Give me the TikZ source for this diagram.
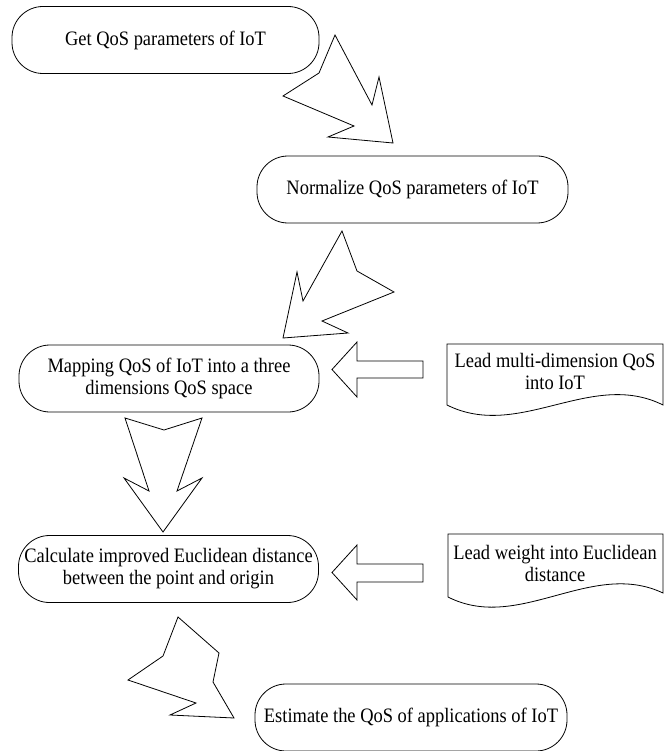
\documentclass[tikz,border=0pt]{standalone}
\usepackage{fontspec}
\setmainfont{Liberation Serif}[FakeStretch=0.9]
\begin{document}
\begin{tikzpicture}[x=1pt,y=-1pt,
  term/.style={draw, line width=0.8pt, rounded corners=31pt, minimum height=67pt,
    align=center, inner sep=0pt, font=\fontsize{20.5}{22}\selectfont},
  txt/.style={align=center, inner sep=0pt, font=\fontsize{20.5}{22}\selectfont},
  blk/.style={draw, line width=0.8pt, line join=miter}]
\useasboundingbox (0,0) rectangle (671,751);

% terminator boxes
\node[term, minimum width=307pt] (b1) at (165.5,40) {Get QoS parameters of IoT};
\node[term, minimum width=311pt] (b2) at (412.5,189.5) {Normalize QoS parameters of IoT};
\node[term, minimum width=300pt] (b3) at (169,378.5) {Mapping QoS of IoT into a three\\dimensions QoS space};
\node[term, minimum width=300pt] (b4) at (168.5,569) {Calculate improved Euclidean distance\\between the point and origin};
\node[term, minimum width=312pt] (b5) at (411,717.5) {Estimate the QoS of applications of IoT};

% document shapes
\draw[blk] (447,405) -- (447,344) -- (663,344) -- (663,405)
  .. controls (591,369) and (519,441) .. (447,405) -- cycle;
\node[txt] (d1) at (555,371) {Lead multi-dimension QoS\\into IoT};
\draw[blk] (448,597) -- (448,534) -- (663,534) -- (663,593)
  .. controls (591,559) and (519,633) .. (448,597) -- cycle;
\node[txt] (d2) at (555,563) {Lead weight into Euclidean\\distance};

% zigzag arrow b1 -> b2
\draw[blk] (335,35) -- (372,105) -- (379,77) -- (393,143) -- (328,137)
  -- (354,126) -- (283,96) -- (319,73) -- cycle;
% zigzag arrow b2 -> b3
\draw[blk] (342,231) -- (357,271) -- (394,292) -- (322,321) -- (348,333)
  -- (283,338) -- (297,272) -- (303,301) -- cycle;
% left arrow d1 -> b3
\draw[blk] (332,369.5) -- (357,342) -- (357,361) -- (423,361) -- (423,378)
  -- (357,378) -- (357,397) -- cycle;
% down arrow b3 -> b4
\draw[blk] (125,418) -- (164,430) -- (202,418) -- (177,491) -- (202,478)
  -- (163,532) -- (124,478) -- (149,491) -- cycle;
% left arrow d2 -> b4
\draw[blk] (332,572.5) -- (357,545) -- (357,564) -- (423,564) -- (423,582)
  -- (357,582) -- (357,600) -- cycle;
% zigzag arrow b4 -> b5
\draw[blk] (178,617) -- (219,653) -- (213,682) -- (234,718) -- (170,715)
  -- (196,703) -- (128,680) -- (163,656) -- cycle;
\end{tikzpicture}
\end{document}
